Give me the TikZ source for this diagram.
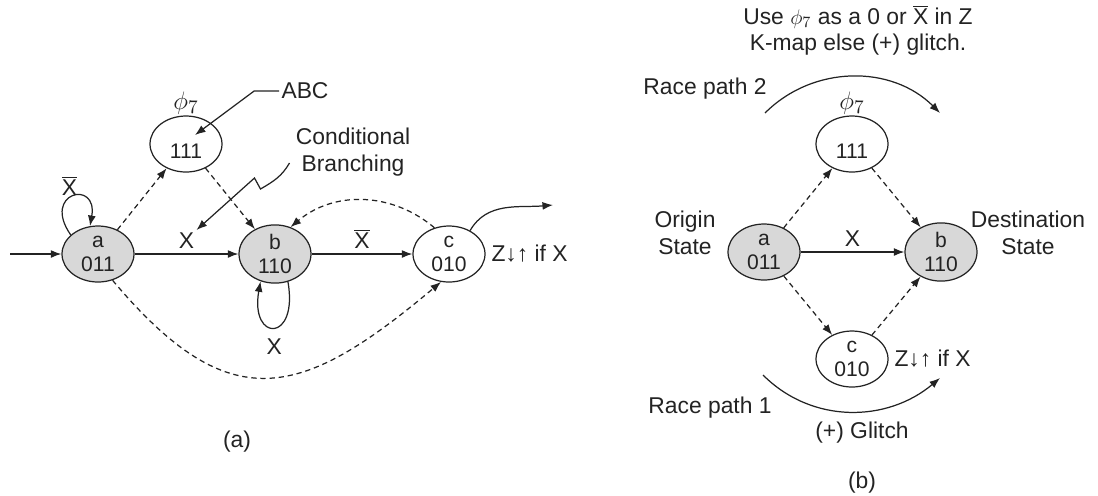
\documentclass[tikz,border=0pt]{standalone}
\usepackage{fontspec}
\setmainfont{Liberation Sans}
\usepackage{tikz}
\usetikzlibrary{arrows.meta,shapes.geometric,positioning,calc}
\definecolor{stategray}{RGB}{216,216,216}
\definecolor{inkgray}{RGB}{35,35,35}
\newcommand{\xbar}{$\overline{\mbox{X}}$}

\begin{document}
\begin{tikzpicture}[x=0.02cm, y=0.02cm, >={Latex[length=6pt,width=4.5pt]}, color=inkgray, line width=0.7pt,
    stnode/.style={ellipse, draw, minimum width=1.44cm, minimum height=1.12cm, inner sep=0.5pt,
      align=center, font=\fontsize{12}{13.6}\selectfont},
    grayst/.style={stnode, fill=stategray},
    lbl/.style={font=\fontsize{13}{15}\selectfont, inner sep=1pt, align=center},
    phlbl/.style={font=\fontsize{15}{17}\selectfont, inner sep=1pt},
    race/.style={->, dash pattern=on 3pt off 2.2pt}]
  \useasboundingbox (0,0) rectangle (1098,-495);

  % (a) state diagram
  \node[grayst] (a1) at (98,-254) {a\\011};
  \node[stnode] (p1) at (186,-144) {\raisebox{-8.5pt}[0pt][0pt]{111}};
  \node[grayst] (b1) at (275,-254) {b\\110};
  \node[stnode] (c1) at (449,-254) {c\\010};
  \node[phlbl, above=-1pt of p1] (ph1) {$\phi_7$};
  \node[lbl, right=2pt of c1] (zc1) {Z↓↑ if X};
  \node[lbl] (abc) at (305,-91) {ABC};
  \node[lbl] (cb) at (353,-152) {Conditional\\Branching};
  \node[lbl] (capa) at (237,-442) {(a)};
  \coordinate (in1) at (10,-254);
  \coordinate (out1) at (553,-205);
  \coordinate (abctip) at (195,-135);

  \draw[->] (in1) -- (a1);
  \draw[->] (a1) -- node[lbl, above=2pt] (xab) {X} (b1);
  \draw[->] (b1) -- node[lbl, above=2pt] (xbc) {\xbar} (c1);
  \draw[->] (a1.145) .. controls +(125:52) and +(80:48) .. (a1.106)
    node[lbl, pos=0.45, above] (xa) {\xbar};
  \draw[->] (b1.-65) .. controls +(-80:62) and +(-100:62) .. (b1.-118)
    node[lbl, pos=0.5, below=5pt] (xb) {X};
  \draw[->] (c1.48) to[out=60, in=185] (out1);
  \draw[race] (a1) -- (p1);
  \draw[race] (p1) -- (b1);
  \draw[race] (c1.119) to[out=140, in=40] (b1.60);
  \draw[race] (a1.-61) to[out=-50, in=-140, looseness=1.42] (c1.-106);
  \draw[->] (abc.west) -- ++(-25,0) -- (abctip);
  \draw[->] ($(cb.west)+(-4,-11)$) to[out=-120, in=30] ++(-29,-26) -- ++(-6,11) -- (xab.north east);

  % (b) race paths
  \node[grayst] (a2) at (764,-252) {a\\011};
  \node[stnode] (p2) at (852,-144) {\raisebox{-8.5pt}[0pt][0pt]{111}};
  \node[grayst] (b2) at (941,-252) {b\\110};
  \node[stnode] (c2) at (852,-359) {c\\010};
  \node[phlbl, above=-1pt of p2] (ph2) {$\phi_7$};
  \node[lbl, right=2pt of c2] (zc2) {Z↓↑ if X};
  \node[lbl] (hdr) at (858,-30) {Use $\phi_7$ as a 0 or \xbar{} in Z\\K-map else (+) glitch.};
  \node[lbl] (orig) at (685,-233) {Origin\\State};
  \node[lbl] (dest) at (1028,-233) {Destination\\State};
  \node[lbl] (rp2) at (705,-89) {Race path 2};
  \node[lbl] (rp1) at (710,-408) {Race path 1};
  \node[lbl] (glt) at (862,-433) {(+) Glitch};
  \node[lbl] (capb) at (862,-483) {(b)};
  \coordinate (r2s) at (765,-113);
  \coordinate (r2e) at (940,-113);
  \coordinate (r1s) at (763,-375);
  \coordinate (r1e) at (940,-378);

  \draw[->] (a2) -- node[lbl, above=2pt] (xab2) {X} (b2);
  \draw[race] (a2) -- (p2);
  \draw[race] (p2) -- (b2);
  \draw[race] (a2) -- (c2);
  \draw[race] (c2) -- (b2);
  \draw[->] (r2s) to[out=45, in=135] (r2e);
  \draw[->] (r1s) to[out=-45, in=-140] (r1e);
\end{tikzpicture}
\end{document}
